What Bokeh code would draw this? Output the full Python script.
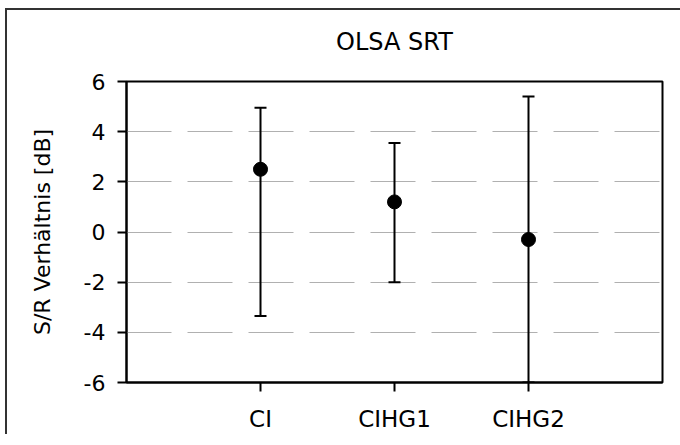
from bokeh.plotting import figure
from bokeh.models import Range1d, FixedTicker, ColumnDataSource, Whisker, TeeHead
from bokeh.embed import file_html
from bokeh.resources import INLINE

title_text = "OLSA SRT"
categories = ["CI", "CIHG1", "CIHG2"]
means = [2.5, 1.2, -0.3]
upper = [4.95, 3.55, 5.4]
lower = [-3.35, -2.0, -6.0]
y_ticks = [-6, -4, -2, 0, 2, 4, 6]
y_tick_labels = ["-6", "-4", "-2", "0", "2", "4", "6"]

xs = [i + 1 for i in range(len(categories))]
src = ColumnDataSource(data=dict(x=xs, mean=means, upper=upper, lower=lower))

FONT = "DejaVu Sans"

p = figure(width=680, height=434, output_backend="svg", toolbar_location=None,
           x_range=Range1d(0, 4), y_range=Range1d(-6, 6), title=title_text)
p.styles = {"background-color": "white", "overflow": "hidden",
            "box-shadow": "inset 5px 8px 0px 0px white, inset 7px 10px 0px 0px #333333"}

p.min_border_left = 126
p.min_border_top = 80
p.min_border_right = 18
p.min_border_bottom = 51

p.title.align = "center"
p.title.text_font = FONT
p.title.text_font_size = "24px"
p.title.text_font_style = "normal"
p.title.text_color = "black"
p.title.standoff = 51

p.outline_line_color = "black"
p.outline_line_width = 2
p.background_fill_color = "white"
p.border_fill_color = None

p.xgrid.grid_line_color = None
p.ygrid.ticker = FixedTicker(ticks=[-4, -2, 0, 2, 4])
p.ygrid.grid_line_color = "#b0b0b0"
p.ygrid.grid_line_width = 1
p.ygrid.grid_line_dash = "45 16"

p.xaxis.ticker = FixedTicker(ticks=xs)
p.xaxis.major_label_overrides = {x: c for x, c in zip(xs, categories)}
p.yaxis.ticker = FixedTicker(ticks=y_ticks)
p.yaxis.major_label_overrides = {t: s for t, s in zip(y_ticks, y_tick_labels)}

for ax in (p.xaxis[0], p.yaxis[0]):
    ax.axis_line_color = "black"
    ax.axis_line_width = 2
    ax.major_tick_line_color = "black"
    ax.major_tick_line_width = 2
    ax.major_tick_in = 0
    ax.major_tick_out = 9
    ax.minor_tick_line_color = None
    ax.major_label_text_font = FONT
    ax.major_label_text_color = "black"

p.xaxis.major_label_text_font_size = "23px"
p.xaxis.major_label_standoff = 14
p.yaxis.major_label_text_font_size = "22px"
p.yaxis.major_label_standoff = 12

p.yaxis.axis_label = "S/R Verhältnis [dB]"
p.yaxis.axis_label_text_font = FONT
p.yaxis.axis_label_text_font_size = "22px"
p.yaxis.axis_label_text_font_style = "normal"
p.yaxis.axis_label_text_color = "black"
p.yaxis.axis_label_standoff = 26

w = Whisker(source=src, base="x", upper="upper", lower="lower",
            line_color="black", line_width=2,
            upper_head=TeeHead(size=12, line_color="black", line_width=2),
            lower_head=TeeHead(size=12, line_color="black", line_width=2))
p.add_layout(w)

p.scatter("x", "mean", source=src, size=14, color="black")

open("out.html", "w").write(file_html(p, INLINE))
